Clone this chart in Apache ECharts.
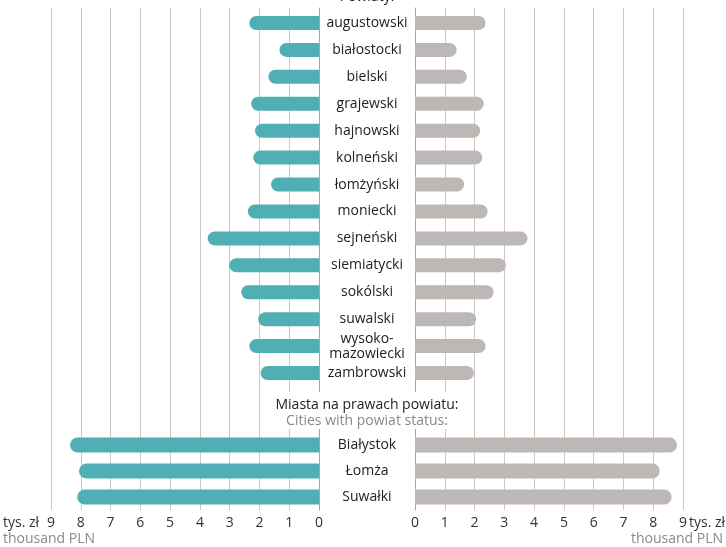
<!DOCTYPE html>
<html>
<head>
<meta charset="utf-8">
<script src="https://cdn.jsdelivr.net/npm/echarts@6/dist/echarts.min.js"></script>
<style>
  html, body { margin: 0; padding: 0; background: #fff; }
  #main { width: 726px; height: 547px; }
</style>
</head>
<body>
<div id="main"></div>
<script>
// dane
var powiaty = ['augustowski', 'białostocki', 'bielski', 'grajewski', 'hajnowski', 'kolneński',
  'łomżyński', 'moniecki', 'sejneński', 'siemiatycki', 'sokólski', 'suwalski',
  'wysoko-\nmazowiecki', 'zambrowski'];
var miasta = ['Białystok', 'Łomża', 'Suwałki'];
var lewePowiaty = [2.34, 1.33, 1.70, 2.28, 2.15, 2.21, 1.61, 2.39, 3.74, 3.01, 2.61, 2.04, 2.34, 1.96];
var prawePowiaty = [2.37, 1.40, 1.74, 2.31, 2.19, 2.26, 1.65, 2.44, 3.78, 3.05, 2.64, 2.05, 2.37, 1.98];
var leweMiasta = [8.36, 8.06, 8.12];
var praweMiasta = [8.80, 8.22, 8.62];
var ticks = [0, 1, 2, 3, 4, 5, 6, 7, 8, 9];

var teal = '#4fafb4';
var grey = '#bdb8b6';
var font = '"Open Sans"';

var chartDom = document.getElementById('main');
var myChart = echarts.init(chartDom);

function valAxis(grid, inverse, show) {
  return {
    type: 'value', gridIndex: grid, inverse: inverse,
    min: ticks[0], max: ticks[ticks.length - 1], interval: 1,
    show: show,
    axisLine: { show: false },
    axisTick: { show: false },
    axisLabel: { color: '#333', fontSize: 14, fontFamily: 'Open Sans', margin: 6 },
    splitLine: { show: show, lineStyle: { color: '#cbc7c5', width: 1 } }
  };
}

function catAxis(grid, data, labels) {
  return {
    type: 'category', gridIndex: grid, data: data, inverse: true,
    position: 'left',
    axisLine: { show: false },
    axisTick: { show: false },
    axisLabel: {
      show: labels, align: 'center', margin: 48,
      color: '#222', fontSize: 14, fontFamily: 'Open Sans', lineHeight: 15
    }
  };
}

function txt(x, y, s, color, align) {
  return {
    type: 'text', x: x, y: y, z: 11,
    style: { text: s, fill: color, font: '14px ' + font, textAlign: align, textVerticalAlign: 'middle' }
  };
}

var option = {
  animation: false,
  grid: [
    { left: 51, width: 268, top: 8, height: 502 },
    { left: 415, width: 268, top: 8, height: 502 },
    { left: 51, width: 268, top: 9.5, height: 377 },
    { left: 415, width: 268, top: 9.5, height: 377 },
    { left: 51, width: 268, top: 432, height: 78 },
    { left: 415, width: 268, top: 432, height: 78 }
  ],
  xAxis: [
    valAxis(0, true, true),
    valAxis(1, false, true),
    valAxis(2, true, false),
    valAxis(3, false, false),
    valAxis(4, true, false),
    valAxis(5, false, false)
  ],
  yAxis: [
    { type: 'value', gridIndex: 0, position: 'right', min: 0, max: 1,
      axisLine: { show: true, lineStyle: { color: '#a8a3a1' } },
      axisTick: { show: false }, axisLabel: { show: false }, splitLine: { show: false } },
    { type: 'value', gridIndex: 1, position: 'left', min: 0, max: 1,
      axisLine: { show: true, lineStyle: { color: '#a8a3a1' } },
      axisTick: { show: false }, axisLabel: { show: false }, splitLine: { show: false } },
    catAxis(2, powiaty, false),
    catAxis(3, powiaty, true),
    catAxis(4, miasta, false),
    catAxis(5, miasta, true)
  ],
  graphic: [
    { type: 'rect', z: 10, shape: { x: 277, y: 392, width: 190, height: 37 }, style: { fill: '#fff' } },
    txt(367, -3, 'Powiaty:', '#222', 'center'),
    txt(367, 405, 'Miasta na prawach powiatu:', '#222', 'center'),
    txt(367, 421, 'Cities with powiat status:', '#8a8a8a', 'center'),
    txt(3, 523, 'tys. zł', '#333', 'left'),
    txt(3, 539, 'thousand PLN', '#8a8a8a', 'left'),
    txt(689, 523, 'tys. zł', '#333', 'left'),
    txt(723, 539, 'thousand PLN', '#8a8a8a', 'right')
  ],
  series: [
    { type: 'bar', xAxisIndex: 2, yAxisIndex: 2, data: lewePowiaty, barWidth: 14,
      itemStyle: { color: teal, borderRadius: [7, 0, 0, 7] } },
    { type: 'bar', xAxisIndex: 3, yAxisIndex: 3, data: prawePowiaty, barWidth: 14,
      itemStyle: { color: grey, borderRadius: [0, 7, 7, 0] } },
    { type: 'bar', xAxisIndex: 4, yAxisIndex: 4, data: leweMiasta, barWidth: 15,
      itemStyle: { color: teal, borderRadius: [7.5, 0, 0, 7.5] } },
    { type: 'bar', xAxisIndex: 5, yAxisIndex: 5, data: praweMiasta, barWidth: 15,
      itemStyle: { color: grey, borderRadius: [0, 7.5, 7.5, 0] } }
  ]
};

option && myChart.setOption(option);
</script>
</body>
</html>
